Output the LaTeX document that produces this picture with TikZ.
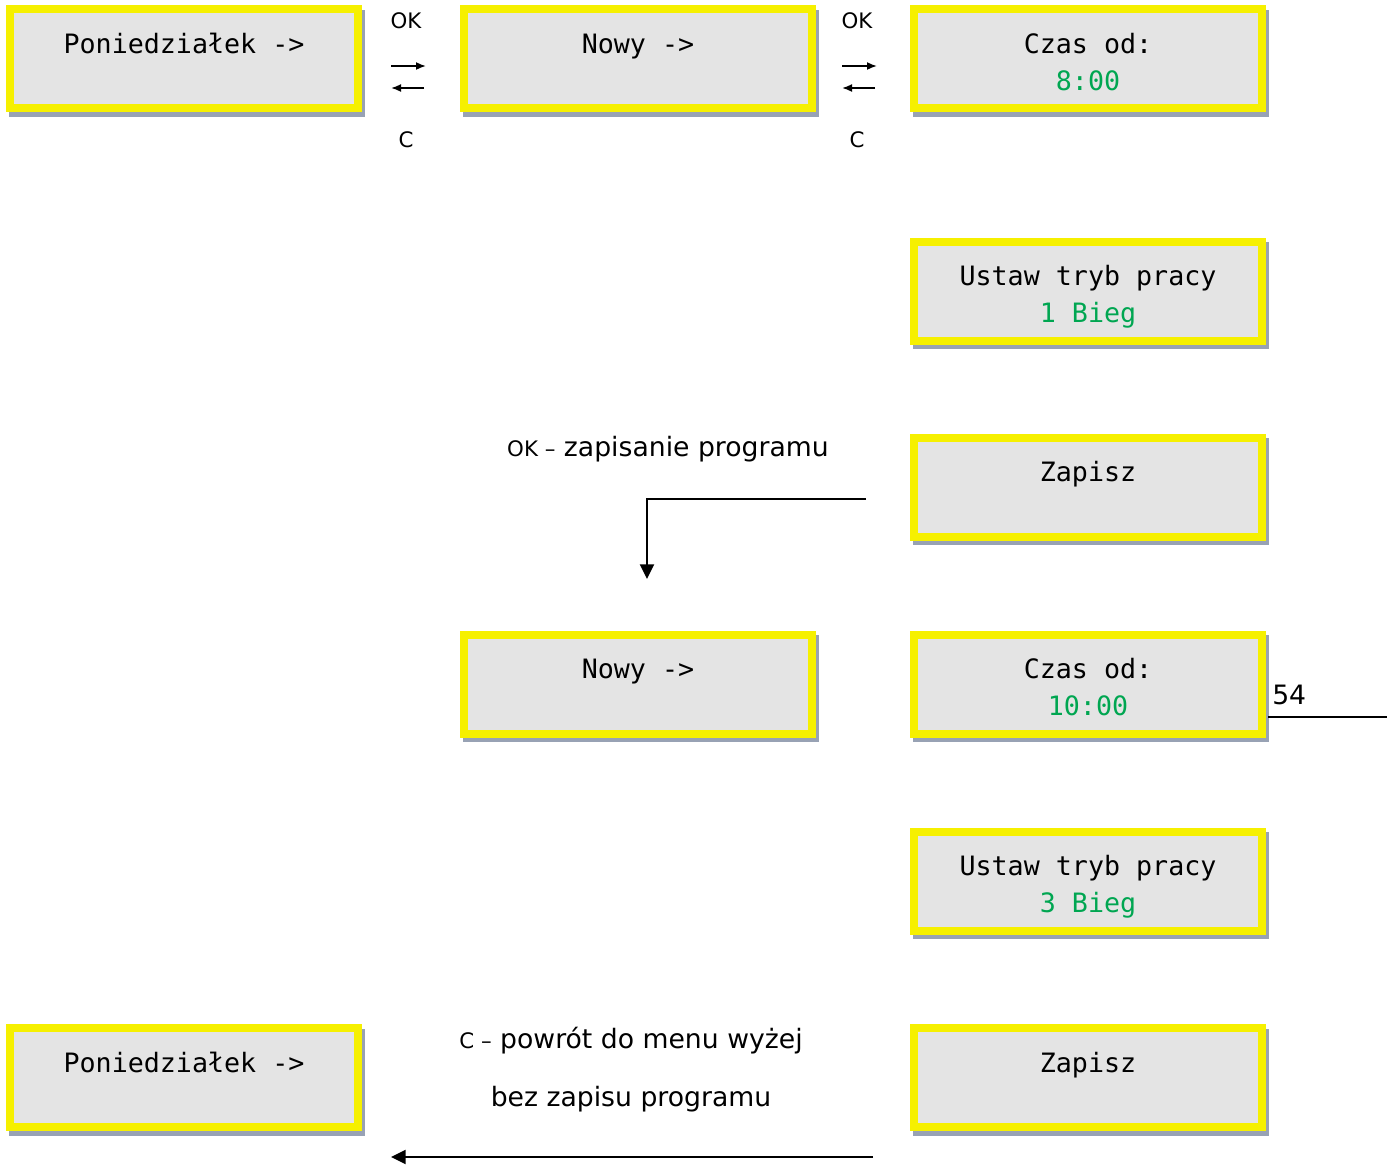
\documentclass[tikz,border=0pt]{standalone}
\usepackage{fontspec}
\setmainfont{DejaVu Sans}
\setmonofont{DejaVu Sans Mono}
\usetikzlibrary{arrows.meta,shadows,calc}
\definecolor{lcdyellow}{RGB}{246,240,0}
\definecolor{lcdgray}{RGB}{228,228,228}
\definecolor{lcdshadow}{RGB}{152,162,180}
\definecolor{lcdgreen}{RGB}{0,166,81}
\begin{document}
\begin{tikzpicture}[x=0.75pt,y=-0.75pt,
  screen/.style={draw=lcdyellow, line width=6pt, fill=lcdgray,
    minimum width=261pt, minimum height=74.25pt, inner sep=0pt,
    drop shadow={shadow xshift=2.5pt, shadow yshift=-3.5pt,
      fill=lcdshadow, draw=lcdshadow, line width=6pt, opacity=1}},
  lcd/.style={font=\ttfamily\fontsize{20}{24}\selectfont, inner sep=0pt,
    text height=15pt, text depth=0pt},
  val/.style={lcd, text=lcdgreen},
  key/.style={font=\fontsize{16}{19}\selectfont, inner sep=0pt},
  note/.style={font=\fontsize{20}{24}\selectfont, inner sep=0pt},
  small/.style={-{Latex[length=7.5pt,width=6pt]}, line width=1.3pt},
  flow/.style={-{Triangle[length=11pt,width=10.5pt]}, line width=1.5pt},
  plain/.style={line width=1.5pt}]
\useasboundingbox (0,0) rectangle (1387,1164);

% menu screens
\node[screen] (A) at (184,58.5) {};
\node[screen] (B) at (638,58.5) {};
\node[screen] (C) at (1088,58.5) {};
\node[screen] (D) at (1088,291) {};
\node[screen] (E) at (1088,487) {};
\node[screen] (F) at (638,684) {};
\node[screen] (G) at (1088,684) {};
\node[screen] (H) at (1088,881) {};
\node[screen] (I) at (184,1077.5) {};
\node[screen] (J) at (1088,1077.5) {};

% screen texts
\node[lcd] (At) at ($(A.north)+(0,38)$) {Poniedziałek ->};
\node[lcd] (Bt) at ($(B.north)+(0,38)$) {Nowy ->};
\node[lcd] (Ct) at ($(C.north)+(0,38)$) {Czas od:};
\node[val] (Cv) at ($(C.north)+(0,75)$) {8:00};
\node[lcd] (Dt) at ($(D.north)+(0,38)$) {Ustaw tryb pracy};
\node[val] (Dv) at ($(D.north)+(0,75)$) {1 Bieg};
\node[lcd] (Et) at ($(E.north)+(0,38)$) {Zapisz};
\node[lcd] (Ft) at ($(F.north)+(0,38)$) {Nowy ->};
\node[lcd] (Gt) at ($(G.north)+(0,38)$) {Czas od:};
\node[val] (Gv) at ($(G.north)+(0,75)$) {10:00};
\node[lcd] (Ht) at ($(H.north)+(0,38)$) {Ustaw tryb pracy};
\node[val] (Hv) at ($(H.north)+(0,75)$) {3 Bieg};
\node[lcd] (It) at ($(I.north)+(0,38)$) {Poniedziałek ->};
\node[lcd] (Jt) at ($(J.north)+(0,38)$) {Zapisz};

% OK / C switches between the top screens
\node[key] (ok1) at (406,21) {OK};
\node[key] (c1) at (406,140) {C};
\coordinate (r1a) at (391,66); \coordinate (r1b) at (426,66);
\coordinate (l1a) at (424,88); \coordinate (l1b) at (391,88);
\draw[small] (r1a) -- (r1b);
\draw[small] (l1a) -- (l1b);

\node[key] (ok2) at (857,21) {OK};
\node[key] (c2) at (857,140) {C};
\coordinate (r2a) at (842,66); \coordinate (r2b) at (877,66);
\coordinate (l2a) at (875,88); \coordinate (l2b) at (842,88);
\draw[small] (r2a) -- (r2b);
\draw[small] (l2a) -- (l2b);

% save with OK
\node[note] (oknote) at (668,449) {{\fontsize{16}{19}\selectfont OK –} zapisanie programu};
\coordinate (okstart) at (866,499);
\coordinate (okend) at (647,579);
\draw[flow] (okstart) -| (okend);

% page number
\node[note, anchor=west] (page) at (1272,695) {54};
\coordinate (pgl) at (1268,717);
\coordinate (pgr) at (1387,717);
\draw[plain] (pgl) -- (pgr);

% back with C
\node[note] (cnote) at (631,1041) {{\fontsize{16}{19}\selectfont C –} powrót do menu wyżej};
\node[note] (cnote2) at (631,1099) {bez zapisu programu};
\coordinate (cstart) at (873,1157);
\coordinate (cend) at (391,1157);
\draw[flow] (cstart) -- (cend);
\end{tikzpicture}
\end{document}
